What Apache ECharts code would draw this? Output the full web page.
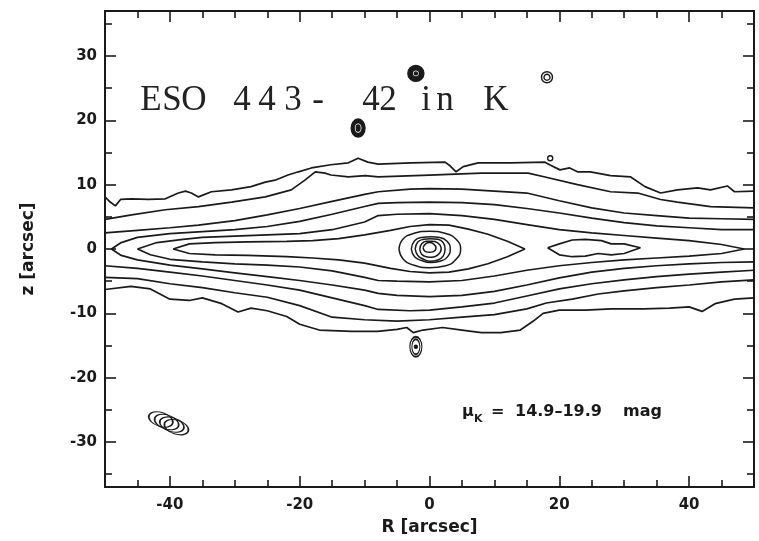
<!DOCTYPE html>
<html><head><meta charset="utf-8">
<script src="https://cdn.jsdelivr.net/npm/echarts@6/dist/echarts.min.js"></script>
<style>html,body{margin:0;padding:0;background:#fff}#c{width:759px;height:541px}</style>
</head><body><div id="c"></div>
<script>
// ---------- axis ticks ----------
const xMajorTicks = [-40, -20, 0, 20, 40];
const xMinorTicks = [-45, -35, -30, -25, -15, -10, -5, 5, 10, 15, 25, 30, 35, 45];
const yMajorTicks = [-30, -20, -10, 0, 10, 20, 30];
const yMinorTicks = [-35, -25, -15, -5, 5, 15, 25, 35];

// ---------- isophote contours [R, z] in arcsec ----------
const c1Upper = [[-50,8.1],[-49.2,7.3],[-48.4,6.7],[-47.6,7.7],[-45.9,7.8],[-43.3,7.7],[-40.7,7.8],[-38.7,8.7],[-37.6,9.0],[-36.7,8.7],[-35.6,8.1],[-33.6,8.9],[-30.5,9.2],[-27.5,9.7],[-25.3,10.4],[-23.8,10.7],[-21.8,11.5],[-20.2,12.0],[-18.2,12.6],[-15.2,13.1],[-12.5,13.4],[-11.0,14.1],[-9.5,13.5],[-7.9,13.2],[-2.8,13.4],[2.4,13.5],[3.2,12.9],[4.1,12.0],[5.2,12.8],[7.5,13.4],[12.5,13.4],[17.8,13.5],[18.5,13.1],[20.1,12.3],[21.6,12.6],[22.8,12.0],[24.8,12.0],[27.9,11.4],[31.0,11.2],[33.2,9.7],[35.6,8.7],[38.2,9.2],[41.3,9.5],[43.3,9.2],[45.9,9.8],[47.0,8.9],[50,9.0]];
const c1Lower = [[-50,-6.3],[-46,-5.8],[-43,-6.2],[-40,-7.8],[-37,-8.0],[-35,-7.6],[-32,-8.5],[-29.5,-9.8],[-27.5,-9.2],[-25,-9.6],[-22,-10.5],[-20,-11.7],[-17,-12.6],[-12,-12.8],[-8,-12.8],[-5,-12.5],[-3.5,-12.2],[-2.5,-13.0],[-1,-12.6],[2,-12.2],[5,-12.6],[8,-13.0],[11,-13.0],[14,-12.6],[16,-11.2],[17.5,-10.0],[20,-9.5],[24,-9.5],[28,-9.3],[33,-9.3],[37,-9.2],[40,-9.0],[42,-9.7],[44,-8.5],[47,-7.8],[50,-7.6]];
const c2Upper = [[-50,4.6],[-45.9,5.3],[-40.7,6.1],[-35.6,6.6],[-30.5,7.3],[-25.3,8.1],[-21.3,9.2],[-19.2,10.7],[-17.6,12.0],[-16.1,11.8],[-15.2,11.5],[-12.5,11.2],[-9.9,11.4],[-7.9,11.2],[0,11.5],[8,11.8],[15.2,11.8],[17.8,11.2],[22.8,10.0],[27.9,8.9],[32.1,8.7],[35.6,7.7],[38.2,7.3],[43.3,6.6],[50,6.4]];
const c2Lower = [[-50,-4.4],[-45,-4.6],[-40,-5.4],[-35,-6.0],[-30,-6.8],[-25,-7.5],[-20,-8.8],[-15,-10.6],[-10,-11.0],[-5,-11.2],[0,-11.0],[5,-10.6],[10,-10.2],[15,-9.3],[18,-8.4],[22,-7.8],[26,-7.0],[30,-6.5],[35,-6.0],[40,-5.6],[45,-5.1],[50,-4.8]];
const c3Upper = [[-50,2.5],[-45,2.9],[-40,3.3],[-35.6,3.7],[-30,4.4],[-25,5.3],[-20,6.3],[-15,7.4],[-10,8.5],[-7.9,8.9],[-3,9.3],[0,9.4],[5,9.3],[10,9.0],[15,8.7],[20,7.5],[25,6.4],[30,5.6],[35,5.2],[40,4.8],[45,4.7],[50,4.6]];
const c3Lower = [[-50,-2.6],[-45,-3.0],[-40,-3.6],[-35,-4.2],[-30,-4.9],[-25,-5.6],[-20,-6.4],[-15,-7.6],[-10,-8.8],[-7.9,-9.4],[-3,-9.6],[0,-9.5],[5,-9.0],[10,-8.4],[15,-7.3],[20,-6.2],[25,-5.4],[30,-4.8],[35,-4.3],[40,-3.9],[45,-3.6],[50,-3.3]];
const c4 = [[50,3.0],[45,3.0],[40,3.3],[35,3.6],[30,4.1],[25,4.8],[20,5.6],[15,6.3],[10,6.9],[5,7.2],[0,7.3],[-5,7.2],[-7.9,7.1],[-10,6.6],[-15,5.4],[-20,4.3],[-25,3.5],[-30,3.0],[-35,2.7],[-40,2.4],[-45,1.8],[-47.5,1.0],[-49,0],[-47.5,-1.0],[-45,-1.7],[-40,-2.5],[-35,-3.1],[-30,-3.7],[-25,-4.3],[-20,-4.9],[-15,-5.6],[-10,-6.4],[-7.9,-6.9],[-5,-7.2],[0,-7.4],[5,-7.2],[10,-6.6],[15,-5.6],[20,-4.5],[25,-3.6],[30,-3.0],[35,-2.6],[40,-2.3],[45,-2.1],[50,-2.0]];
const c5 = [[-45,0],[-42,1.0],[-38,1.5],[-35,1.8],[-30,2.0],[-25,2.2],[-20,2.4],[-15,3.0],[-10,4.2],[-7.9,5.2],[-5,5.4],[0,5.5],[5,5.2],[10,4.6],[15,3.8],[20,3.0],[25,2.5],[30,2.1],[35,1.7],[40,1.3],[45,0.7],[48.5,0],[45,-0.7],[40,-1.1],[35,-1.4],[30,-1.7],[25,-2.1],[20,-2.6],[15,-3.3],[10,-4.2],[5,-4.9],[0,-5.1],[-5,-5.0],[-7.9,-4.9],[-10,-4.4],[-15,-3.4],[-20,-2.8],[-25,-2.5],[-30,-2.3],[-35,-2.0],[-40,-1.6],[-43,-0.9],[-45,0]];
const c6 = [[-39.5,0],[-37,0.8],[-33,1.0],[-28,1.1],[-22,1.2],[-18,1.3],[-14,1.6],[-10,2.2],[-6,2.9],[-3,3.5],[0,3.8],[3,3.7],[6,3.1],[9,2.3],[12,1.2],[14.7,0],[12,-1.2],[9,-2.3],[6,-3.1],[3,-3.6],[0,-3.7],[-3,-3.5],[-6,-3.0],[-10,-2.2],[-14,-1.7],[-18,-1.4],[-22,-1.2],[-28,-1.0],[-33,-0.9],[-37,-0.7],[-39.5,0]];
const c6Island = [[18.2,0.2],[20,0.8],[22,1.4],[24,1.5],[26.5,1.3],[28,0.8],[30,0.8],[32.5,0.2],[30,-0.7],[28,-0.9],[26,-0.7],[24,-1.1],[22,-1.2],[20,-0.9],[18.2,0.2]];
const c7 = [[-4.7,0],[-4.1,1.5],[-2.5,2.4],[0,2.75],[2.5,2.4],[4.1,1.5],[4.8,0],[4.1,-1.6],[2.5,-2.6],[0,-2.9],[-2.5,-2.5],[-4.1,-1.5],[-4.7,0]];
const c8 = [[-2.8,0],[-2.3,1.3],[-1.2,1.8],[0.2,1.9],[1.6,1.8],[2.7,1.2],[3.2,0],[2.7,-1.3],[1.6,-1.9],[0.2,-2.1],[-1.2,-1.8],[-2.3,-1.2],[-2.8,0]];
const c9 = [[-2.2,0],[-1.8,1.1],[-0.9,1.5],[0.1,1.6],[1.3,1.5],[2.1,1.0],[2.4,0],[2.1,-1.1],[1.3,-1.7],[0.1,-1.9],[-0.9,-1.6],[-1.8,-1.0],[-2.2,0]];
const c10 = [[-1.5,0],[-1.2,0.8],[-0.5,1.2],[0.3,1.2],[1.2,1.0],[1.8,0],[1.2,-1.0],[0.3,-1.3],[-0.5,-1.2],[-1.2,-0.8],[-1.5,0]];
const c11 = [[-1.0,0.2],[-0.6,0.8],[0,1.0],[0.6,0.8],[1.0,0.2],[0.6,-0.4],[0,-0.5],[-0.6,-0.4],[-1.0,0.2]];

// ---------- field objects (centres, arcsec) ----------
const starCentres = [[-2.1,27.3],[18.1,26.7],[-11.0,18.8],[18.6,14.1],[-2.1,-15.2]];
const companionCentres = [[-41.4,-26.5],[-40.5,-26.9],[-39.7,-27.3],[-39.0,-27.7]];

const ink = '#1a1a1a';
const contours = [c1Upper,c1Lower,c2Upper,c2Lower,c3Upper,c3Lower,c4,c5,c6,c6Island];
const nucleus = [c7,c8,c9,c10,c11];

const series = [];
contours.forEach(d => series.push({type:'line', data:d, showSymbol:false, symbol:'none', clip:true, silent:true,
  lineStyle:{color:ink, width:1.7}, z:3}));
nucleus.forEach(d => series.push({type:'line', data:d, showSymbol:false, symbol:'none', smooth:0.5, silent:true,
  lineStyle:{color:ink, width:1.5}, z:3}));

// star ring styling (per star index): list of [w,h,fill]
const ringStyles = [
  [[16,16,ink],[7,7,'#fff'],[3,3,ink]],
  [[11,11,'none'],[6,6,'none']],
  [[14,18,ink],[8,11,'#fff'],[4,6,ink]],
  [[5,5,'none']],
  [[12,20,'none'],[8,15,'none'],[3,3,ink]]
];
const maxRings = 3;
for (let r = 0; r < maxRings; r++) {
  const pts = [];
  starCentres.forEach((c, i) => { if (ringStyles[i][r]) pts.push({value:c, idx:i}); });
  series.push({type:'scatter', z:4+r, silent:true,
    data: pts.map(p => p.value),
    symbol:'circle',
    symbolSize: (v, p) => { const s = ringStyles[pts[p.dataIndex].idx][r]; return [s[0], s[1]]; },
    itemStyle:{ opacity:1, color: p => { const s = ringStyles[pts[p.dataIndex].idx][r]; return s[2] === 'none' ? '#fff' : s[2]; },
      borderColor: ink, borderWidth: 1.4 }
  });
}
series.push({type:'scatter', z:4, silent:true, data:companionCentres, symbol:'circle',
  symbolSize:[25,14], symbolRotate:-18, itemStyle:{opacity:1, color:'rgba(255,255,255,0)', borderColor:ink, borderWidth:1.3}});

// ---------- axes ----------
const lbl = {fontFamily:'DejaVu Sans', fontWeight:'bold', fontSize:15, color:ink};
function xAx(pos, ticks, len, labels) {
  return {type:'value', min:-50, max:50, position:pos,
    axisLine:{show:true, onZero:false, lineStyle:{color:ink, width:2}},
    axisTick:{show:true, inside:true, length:len, customValues:ticks, lineStyle:{color:ink, width:1.6}},
    axisLabel: labels ? Object.assign({show:true, customValues:ticks, margin:11}, lbl) : {show:false},
    splitLine:{show:false}};
}
function yAx(pos, ticks, len, labels) {
  return {type:'value', min:-37, max:37, position:pos,
    axisLine:{show:true, onZero:false, lineStyle:{color:ink, width:2}},
    axisTick:{show:true, inside:true, length:len, customValues:ticks, lineStyle:{color:ink, width:1.6}},
    axisLabel: labels ? Object.assign({show:true, customValues:ticks, margin:8}, lbl) : {show:false},
    splitLine:{show:false}};
}
const xAxes = [xAx('bottom', xMajorTicks, 11, true), xAx('bottom', xMinorTicks, 7, false),
               xAx('top', xMajorTicks, 11, false), xAx('top', xMinorTicks, 7, false)];
xAxes[0].name = 'R [arcsec]'; xAxes[0].nameLocation = 'middle'; xAxes[0].nameGap = 32;
xAxes[0].nameTextStyle = {fontFamily:'DejaVu Sans', fontWeight:'bold', fontSize:17, color:ink};
const yAxes = [yAx('left', yMajorTicks, 11, true), yAx('left', yMinorTicks, 7, false),
               yAx('right', yMajorTicks, 11, false), yAx('right', yMinorTicks, 7, false)];
yAxes[0].name = 'z [arcsec]'; yAxes[0].nameLocation = 'middle'; yAxes[0].nameGap = 68; yAxes[0].nameRotate = 90;
yAxes[0].nameTextStyle = {fontFamily:'DejaVu Sans', fontWeight:'bold', fontSize:17, color:ink};

// ---------- texts ----------
const titleChars = ['E','S','O','4','4','3','-','4','2','i','n','K'];
const titleCentres = [151,172,194,242,267,293,318,371,388,426,445,496];
const graphics = titleChars.map((ch, i) => ({type:'text', x:titleCentres[i], y:101, silent:true,
  style:{text:ch, fill:'#222', font:'35px "Liberation Serif"', align:'center', verticalAlign:'middle',
         textAlign:'center', textVerticalAlign:'middle'}}));
const muFont = 'bold 16px "DejaVu Sans"';
graphics.push({type:'text', x:462, y:412, style:{text:'μ', fill:ink, font:muFont, verticalAlign:'middle', textVerticalAlign:'middle'}});
graphics.push({type:'text', x:474, y:419, style:{text:'K', fill:ink, font:'bold 11px "DejaVu Sans"', verticalAlign:'middle', textVerticalAlign:'middle'}});
graphics.push({type:'text', x:491, y:412, style:{text:'=', fill:ink, font:muFont, verticalAlign:'middle', textVerticalAlign:'middle'}});
graphics.push({type:'text', x:515, y:412, style:{text:'14.9–19.9', fill:ink, font:muFont, verticalAlign:'middle', textVerticalAlign:'middle'}});
graphics.push({type:'text', x:623, y:412, style:{text:'mag', fill:ink, font:muFont, verticalAlign:'middle', textVerticalAlign:'middle'}});

const chart = echarts.init(document.getElementById('c'), null, {renderer:'canvas'});
chart.setOption({
  animation:false, backgroundColor:'#fff',
  grid:{left:105, right:5, top:11, bottom:54},
  xAxis:xAxes, yAxis:yAxes,
  series: series.map(s => Object.assign({xAxisIndex:0, yAxisIndex:0}, s)),
  graphic:graphics
});
</script></body></html>
